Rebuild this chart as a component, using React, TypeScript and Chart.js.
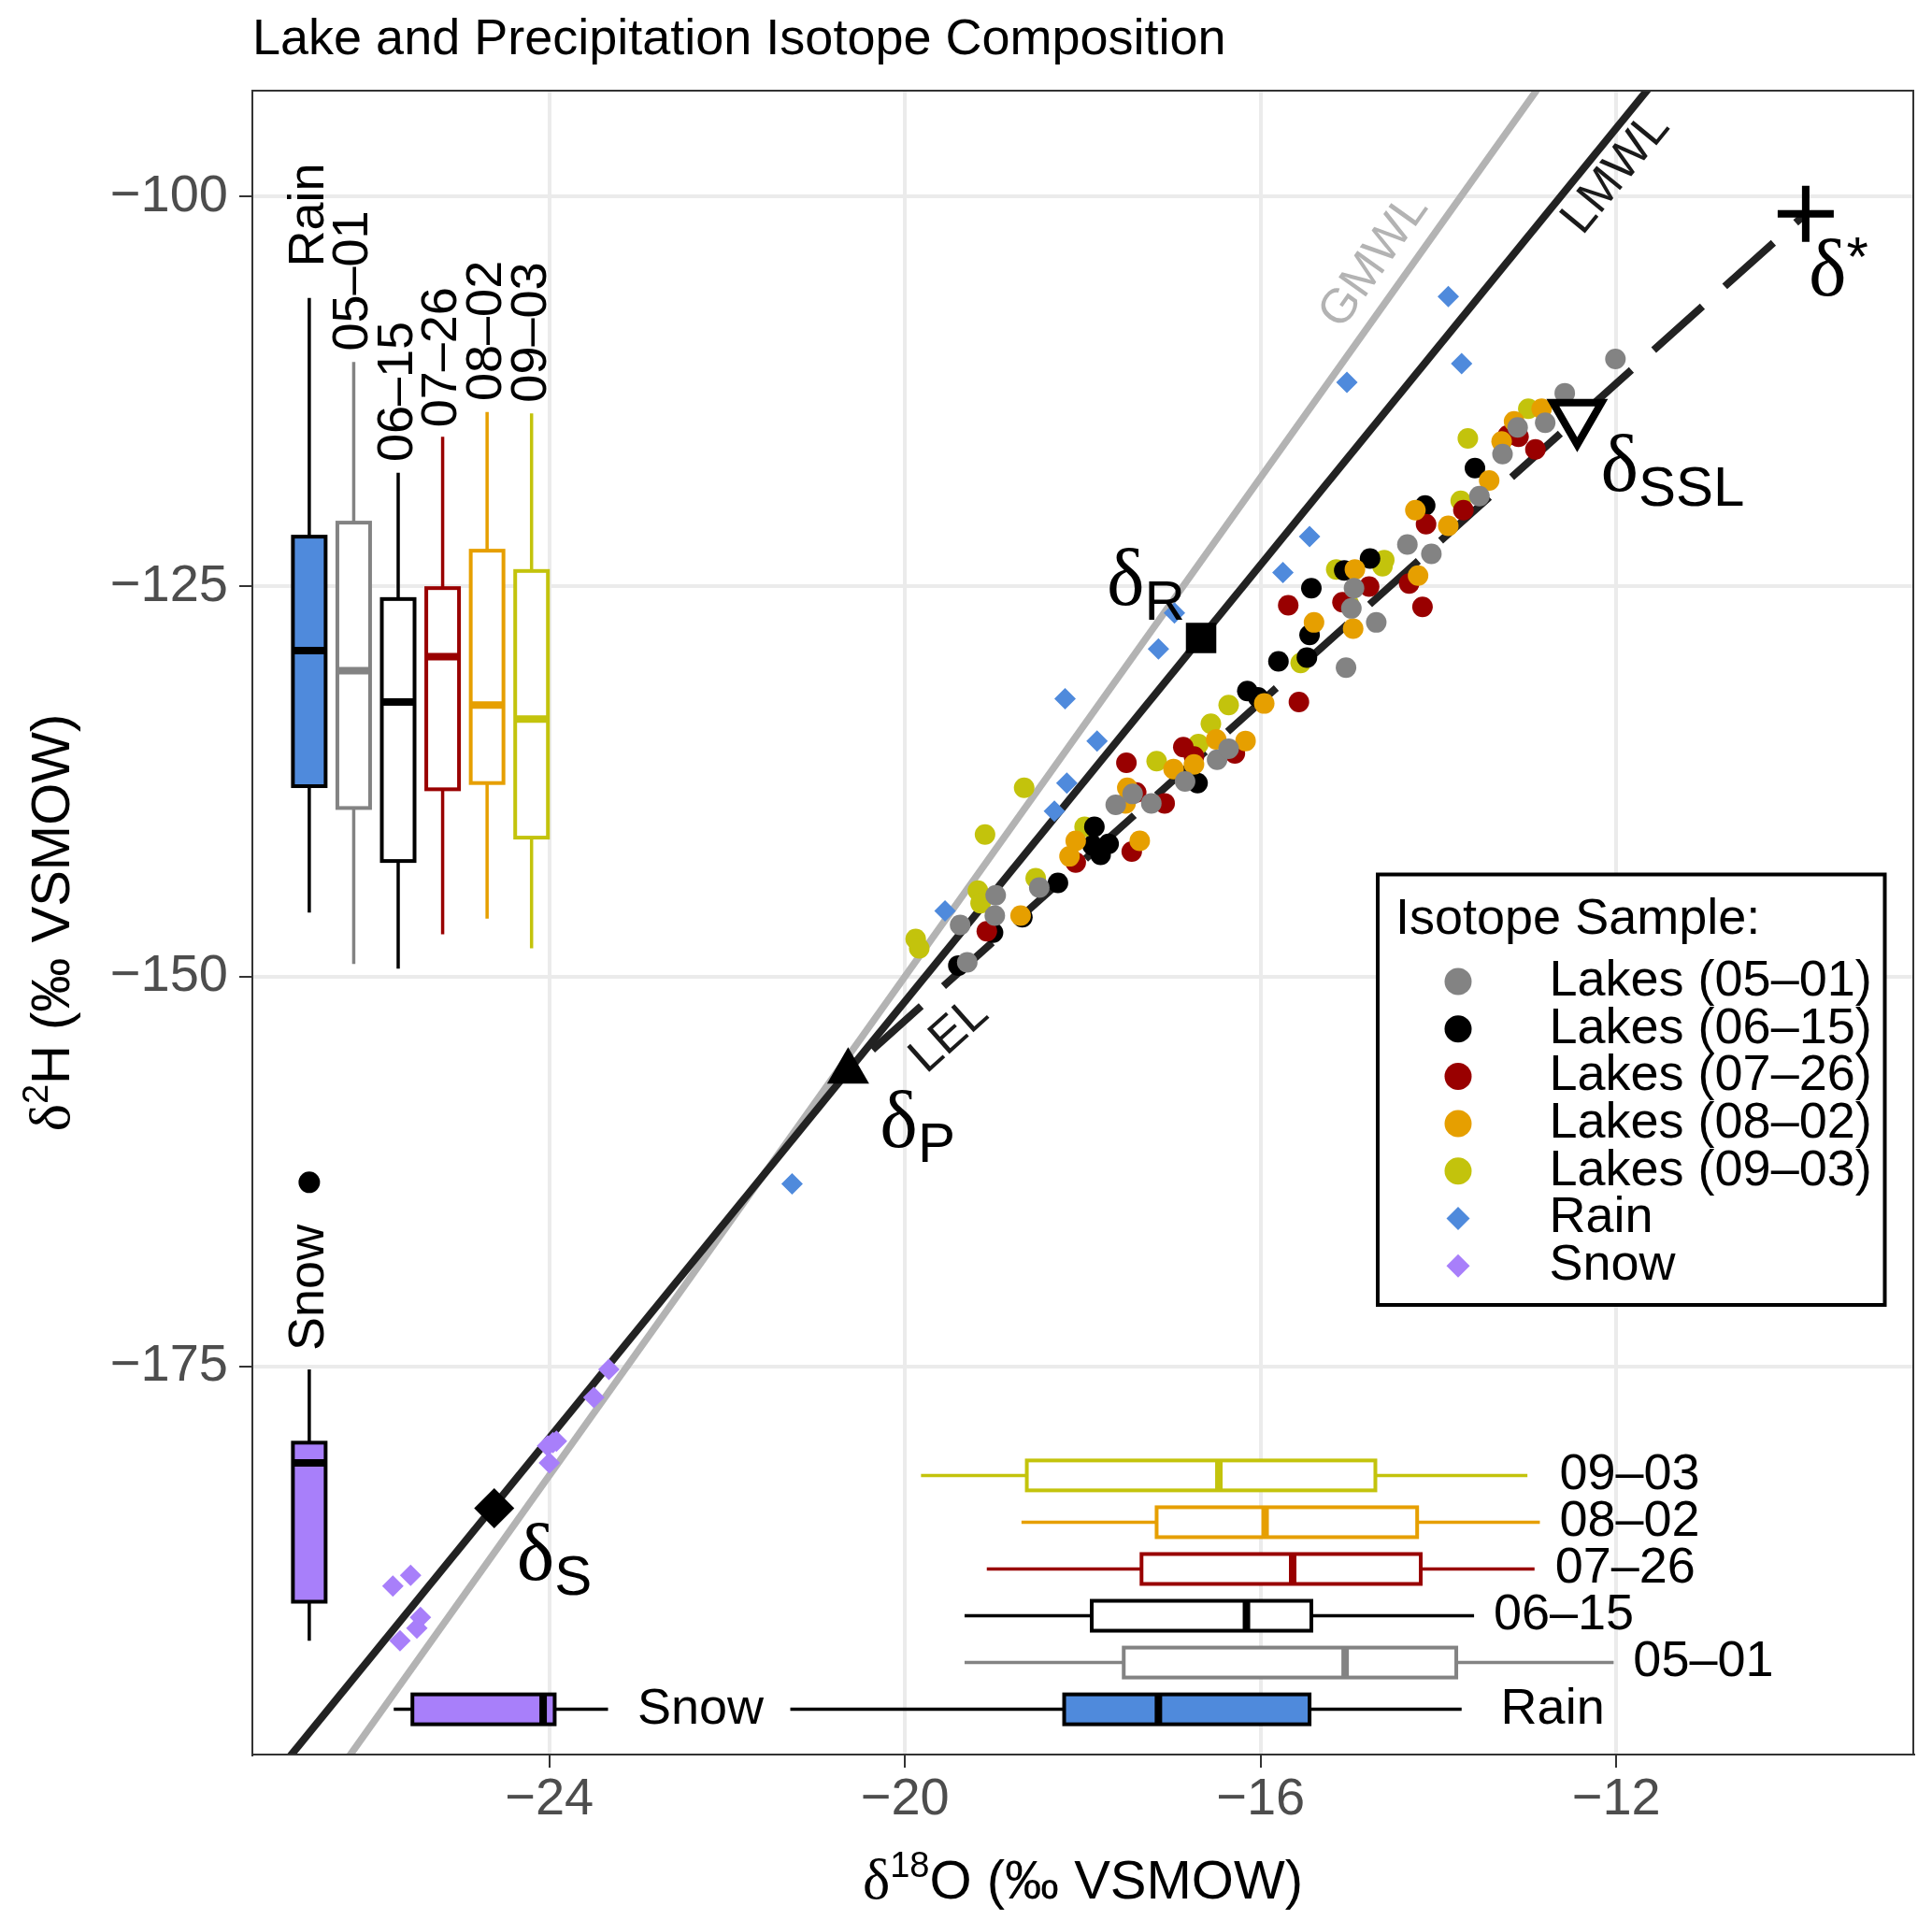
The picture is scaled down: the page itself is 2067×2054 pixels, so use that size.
import { useEffect, useRef } from 'react';
import { Chart, registerables } from 'chart.js';

Chart.register(...registerables);

const SANS = '"Liberation Sans", Arial, sans-serif';
const SERIF = '"Liberation Serif", "DejaVu Serif", serif';

// axis ticks
const xTickValues = [-24, -20, -16, -12];
const xTickLabels = ['−24', '−20', '−16', '−12'];
const yTickValues = [-175, -150, -125, -100];
const yTickLabels = ['−175', '−150', '−125', '−100'];

// lake samples, one pair of arrays per sampling date
const lakes0501X = [-19.38, -18.98, -18.99, -19.3, -18.49, -17.63, -17.44, -17.23, -16.85, -16.49, -16.36, -14.95, -14.98, -14.7, -15.04, -14.35, -14.08, -12.01, -12.58, -12.8, -13.11, -13.28, -13.54];
const lakes0501Y = [-146.7, -144.8, -146.1, -149.1, -144.3, -139.0, -138.3, -138.9, -137.5, -136.1, -135.4, -125.1, -126.4, -127.3, -130.2, -122.3, -122.9, -110.4, -112.6, -114.5, -114.8, -116.5, -119.2];

const lakes0615X = [-19.01, -19.4, -18.68, -18.28, -17.87, -17.89, -17.8, -17.71, -16.71, -15.43, -15.45, -15.8, -15.48, -16.15, -16.03, -15.06, -14.77, -14.15, -13.59];
const lakes0615Y = [-147.2, -149.3, -146.2, -144.0, -140.4, -141.6, -142.2, -141.5, -137.6, -125.1, -128.1, -129.8, -129.55, -131.7, -132.1, -123.96, -123.2, -119.8, -117.4];

const lakes0726X = [-19.08, -18.08, -17.45, -17.51, -16.87, -16.75, -17.4, -17.08, -15.69, -15.57, -16.29, -15.08, -14.78, -14.33, -14.18, -14.14, -13.22, -13.1, -12.91, -13.72];
const lakes0726Y = [-147.1, -142.7, -142.0, -136.3, -135.3, -135.9, -138.2, -138.9, -126.2, -132.4, -135.7, -126.0, -125.0, -124.8, -126.3, -121.0, -115.3, -115.4, -116.2, -120.1];

const lakes0802X = [-18.7, -18.15, -18.08, -17.36, -17.5, -17.52, -16.98, -16.75, -16.5, -15.4, -15.96, -16.17, -14.96, -14.94, -14.23, -14.26, -12.84, -13.15, -13.29, -13.43, -13.89];
const lakes0802Y = [-146.1, -142.3, -141.3, -141.3, -137.9, -138.9, -136.7, -136.4, -134.8, -127.3, -132.5, -134.9, -127.7, -123.9, -124.3, -120.1, -113.6, -114.4, -115.7, -118.2, -121.1];

const lakes0903X = [-18.66, -19.1, -19.88, -19.84, -19.18, -19.15, -18.53, -17.17, -16.56, -16.7, -17.98, -15.15, -14.61, -14.63, -15.55, -16.36, -15.01, -13.67, -12.99, -13.75];
const lakes0903Y = [-137.9, -140.9, -147.6, -148.2, -144.5, -145.3, -143.7, -136.2, -133.8, -135.1, -140.4, -123.9, -123.3, -123.7, -129.9, -132.6, -126.1, -115.5, -113.6, -119.5];

// precipitation samples
const rainX = [-13.89, -13.74, -15.03, -15.45, -15.75, -16.97, -17.15, -18.2, -17.84, -18.18, -18.32, -19.55, -21.27];
const rainY = [-106.4, -110.7, -111.9, -121.8, -124.1, -126.7, -129.0, -132.2, -134.9, -137.6, -139.4, -145.8, -163.3];
const snowX = [-23.33, -23.5, -23.96, -24.02, -23.92, -24.0, -25.56, -25.76, -25.45, -25.49, -25.68];
const snowY = [-175.2, -177.0, -179.9, -180.1, -179.8, -181.2, -188.4, -189.1, -191.1, -191.8, -192.6];

// meteoric water lines, two points each (run past the panel and get clipped)
const gmwlX = [-27.5, -11.5];
const gmwlY = [-210, -82];
const lmwlX = [-28, -10.5];
const lmwlY = [-207.6, -85.1];

// end members: δR, δP, δS, δSSL, δ*  (LEL runs from δP to δ*)
const endNames = ['R', 'P', 'S', 'SSL', '*'];
const endX = [-16.67, -20.64, -24.62, -12.44, -9.87];
const endY = [-128.3, -156.1, -184.1, -114.1, -101.1];
const endLabelDx = [-101, 34, 24, 25, 3];
const endLabelDy = [-36, 81, 77, 79, 87];

// line labels (centre of text)
const lineLabels = ['GMWL', 'LMWL', 'LEL'];
const lineLabelX = [-14.72, -12.0, -19.5];
const lineLabelY = [-104.14, -98.5, -153.8];

// δ2H box plots along the left edge
const boxNames = ['Rain', '05–01', '06–15', '07–26', '08–02', '09–03'];
const vBoxX = [-26.7, -26.2, -25.7, -25.2, -24.7, -24.2];
const vBoxMin = [-145.9, -149.2, -149.5, -147.3, -146.3, -148.2];
const vBoxQ1 = [-137.8, -139.2, -142.6, -138.0, -137.6, -141.1];
const vBoxMed = [-129.1, -130.4, -132.4, -129.5, -132.6, -133.5];
const vBoxQ3 = [-121.8, -120.9, -125.8, -125.1, -122.7, -124.0];
const vBoxMax = [-106.5, -110.6, -117.7, -115.4, -113.8, -113.9];
const vLabelY = [-104.5, -109.9, -117.0, -114.8, -113.1, -113.2];

// δ18O box plots along the bottom edge
const hBoxY = [-197, -194, -191, -188, -185, -182];
const hBoxMin = [-21.29, -19.33, -19.33, -19.08, -18.69, -19.82];
const hBoxQ1 = [-18.21, -17.54, -17.9, -17.34, -17.17, -18.63];
const hBoxMed = [-17.15, -15.05, -16.16, -15.64, -15.95, -16.47];
const hBoxQ3 = [-15.45, -13.8, -15.43, -14.2, -14.24, -14.71];
const hBoxMax = [-13.74, -12.03, -13.6, -12.92, -12.86, -13.0];
const hLabelX = [-13.3, -11.81, -13.38, -12.69, -12.64, -12.64];

// snow box plots: [min, q1, median, q3, max]
const snowVBox = [-192.6, -190.1, -181.2, -179.9, -175.2];
const snowVBoxX = -26.7;
const snowVLabelY = -174.0;
const snowOutlierY = [-163.2];
const snowHBox = [-25.75, -25.54, -24.07, -23.94, -23.34];
const snowHBoxY = -197;
const snowHLabelX = -23.01;

const GREY = '#838383';
const RED = '#990000';
const ORANGE = '#E69F00';
const OLIVE = '#C3C30C';
const BLUE = '#4F8ADC';
const PURPLE = '#A87FFA';

const boxStroke = ['#000000', GREY, '#000000', RED, ORANGE, OLIVE];
const boxFill = [BLUE, '#FFFFFF', '#FFFFFF', '#FFFFFF', '#FFFFFF', '#FFFFFF'];

const pts = (xs: number[], ys: number[]) => xs.map((x, i) => ({ x, y: ys[i] }));

type Part = { text: string; font: string; dy?: number };

function drawParts(ctx: CanvasRenderingContext2D, parts: Part[], x: number, y: number, center: boolean) {
  let w = 0;
  parts.forEach((p) => {
    ctx.font = p.font;
    w += ctx.measureText(p.text).width;
  });
  let cx = center ? x - w / 2 : x;
  ctx.textAlign = 'left';
  ctx.textBaseline = 'alphabetic';
  parts.forEach((p) => {
    ctx.font = p.font;
    ctx.fillText(p.text, cx, y + (p.dy || 0));
    cx += ctx.measureText(p.text).width;
  });
}

function vBox(ctx: CanvasRenderingContext2D, cx: number, ys: any, s: number[], stroke: string, fill: string) {
  const hw = 17.5;
  const [lo, q1, md, q3, hi] = s.map((v) => ys.getPixelForValue(v));
  ctx.strokeStyle = stroke;
  ctx.lineCap = 'butt';
  ctx.lineWidth = 3.5;
  ctx.beginPath();
  ctx.moveTo(cx, hi);
  ctx.lineTo(cx, q3);
  ctx.moveTo(cx, q1);
  ctx.lineTo(cx, lo);
  ctx.stroke();
  ctx.fillStyle = fill;
  ctx.fillRect(cx - hw, q3, 2 * hw, q1 - q3);
  ctx.lineWidth = 4;
  ctx.strokeRect(cx - hw, q3, 2 * hw, q1 - q3);
  ctx.lineWidth = 8;
  ctx.beginPath();
  ctx.moveTo(cx - hw, md);
  ctx.lineTo(cx + hw, md);
  ctx.stroke();
}

function hBox(ctx: CanvasRenderingContext2D, cy: number, xs: any, s: number[], stroke: string, fill: string) {
  const hh = 16;
  const [lo, q1, md, q3, hi] = s.map((v) => xs.getPixelForValue(v));
  ctx.strokeStyle = stroke;
  ctx.lineCap = 'butt';
  ctx.lineWidth = 3.5;
  ctx.beginPath();
  ctx.moveTo(lo, cy);
  ctx.lineTo(q1, cy);
  ctx.moveTo(q3, cy);
  ctx.lineTo(hi, cy);
  ctx.stroke();
  ctx.fillStyle = fill;
  ctx.fillRect(q1, cy - hh, q3 - q1, 2 * hh);
  ctx.lineWidth = 4;
  ctx.strokeRect(q1, cy - hh, q3 - q1, 2 * hh);
  ctx.lineWidth = 8;
  ctx.beginPath();
  ctx.moveTo(md, cy - hh);
  ctx.lineTo(md, cy + hh);
  ctx.stroke();
}

const sketchPlugin = {
  id: 'sketch',
  beforeDatasetsDraw(chart: any) {
    const { ctx, scales } = chart;
    const xs = scales.x;
    const ys = scales.y;
    ctx.save();
    boxNames.forEach((_, i) => {
      vBox(ctx, xs.getPixelForValue(vBoxX[i]), ys, [vBoxMin[i], vBoxQ1[i], vBoxMed[i], vBoxQ3[i], vBoxMax[i]], boxStroke[i], boxFill[i]);
      hBox(ctx, ys.getPixelForValue(hBoxY[i]), xs, [hBoxMin[i], hBoxQ1[i], hBoxMed[i], hBoxQ3[i], hBoxMax[i]], boxStroke[i], boxFill[i]);
    });
    vBox(ctx, xs.getPixelForValue(snowVBoxX), ys, snowVBox, '#000000', PURPLE);
    hBox(ctx, ys.getPixelForValue(snowHBoxY), xs, snowHBox, '#000000', PURPLE);

    // box labels
    ctx.fillStyle = '#000000';
    ctx.font = `54px ${SANS}`;
    const vLabels = [...boxNames, 'Snow'];
    const vx = [...vBoxX, snowVBoxX];
    const vy = [...vLabelY, snowVLabelY];
    vLabels.forEach((t, i) => {
      ctx.save();
      ctx.translate(xs.getPixelForValue(vx[i]), ys.getPixelForValue(vy[i]));
      ctx.rotate(-Math.PI / 2);
      ctx.textAlign = 'left';
      ctx.textBaseline = 'middle';
      ctx.fillText(t, 0, 0);
      ctx.restore();
    });
    const hx = [...hLabelX, snowHLabelX];
    const hy = [...hBoxY, snowHBoxY];
    ctx.textAlign = 'left';
    ctx.textBaseline = 'middle';
    vLabels.forEach((t, i) => {
      ctx.fillText(t, xs.getPixelForValue(hx[i]), ys.getPixelForValue(hy[i]));
    });
    ctx.restore();
  },
  afterDatasetsDraw(chart: any) {
    const { ctx, scales, chartArea: ca } = chart;
    const xs = scales.x;
    const ys = scales.y;
    ctx.save();

    // line labels, parallel to their lines
    const lineEnds = [
      [gmwlX, gmwlY],
      [lmwlX, lmwlY],
      [[endX[1], endX[4]], [endY[1], endY[4]]],
    ];
    const lineColors = ['#B3B3B3', '#1A1A1A', '#1A1A1A'];
    lineLabels.forEach((t, i) => {
      const [lx, ly] = lineEnds[i];
      const a = Math.atan2(
        ys.getPixelForValue(ly[1]) - ys.getPixelForValue(ly[0]),
        xs.getPixelForValue(lx[1]) - xs.getPixelForValue(lx[0]),
      );
      ctx.save();
      ctx.translate(xs.getPixelForValue(lineLabelX[i]), ys.getPixelForValue(lineLabelY[i]));
      ctx.rotate(a);
      ctx.fillStyle = lineColors[i];
      ctx.font = `52px ${SANS}`;
      ctx.textAlign = 'center';
      ctx.textBaseline = 'middle';
      ctx.fillText(t, 0, 0);
      ctx.restore();
    });

    // end-member labels
    ctx.fillStyle = '#000000';
    endNames.forEach((n, i) => {
      const px = xs.getPixelForValue(endX[i]) + endLabelDx[i];
      const py = ys.getPixelForValue(endY[i]) + endLabelDy[i];
      drawParts(
        ctx,
        [
          { text: 'δ', font: `86px ${SERIF}` },
          { text: n, font: `60px ${SANS}`, dy: n === '*' ? -21 : 16 },
        ],
        px,
        py,
        false,
      );
    });

    // panel border
    ctx.strokeStyle = '#333333';
    ctx.lineWidth = 2;
    ctx.strokeRect(ca.left, ca.top, ca.right - ca.left, ca.bottom - ca.top);

    // legend
    const lx = ca.right - 573;
    const ly = ca.top + 838.5;
    ctx.fillStyle = '#FFFFFF';
    ctx.fillRect(lx, ly, 542.5, 460.5);
    ctx.strokeStyle = '#000000';
    ctx.lineWidth = 4;
    ctx.strokeRect(lx, ly, 542.5, 460.5);
    ctx.fillStyle = '#000000';
    ctx.font = `54px ${SANS}`;
    ctx.textAlign = 'left';
    ctx.textBaseline = 'alphabetic';
    ctx.fillText('Isotope Sample:', lx + 19, ly + 63.5);
    const items = chart.data.datasets.filter((d: any) => d.legendRow !== undefined);
    items.forEach((d: any) => {
      const cy = ly + 114.5 + d.legendRow * 50.7;
      const mx = lx + 86;
      ctx.fillStyle = d.backgroundColor;
      ctx.beginPath();
      if (d.pointStyle === 'rectRot') {
        const r = 12.5;
        ctx.moveTo(mx, cy - r);
        ctx.lineTo(mx + r, cy);
        ctx.lineTo(mx, cy + r);
        ctx.lineTo(mx - r, cy);
        ctx.closePath();
      } else {
        ctx.arc(mx, cy, 14.5, 0, Math.PI * 2);
      }
      ctx.fill();
      ctx.fillStyle = '#000000';
      ctx.textBaseline = 'middle';
      ctx.fillText(d.label, lx + 183.5, cy);
    });

    ctx.restore();
  },
  afterDraw(chart: any) {
    const { ctx, chartArea: ca } = chart;
    ctx.save();
    ctx.fillStyle = '#000000';
    ctx.font = `54px ${SANS}`;
    ctx.textAlign = 'left';
    ctx.textBaseline = 'alphabetic';
    ctx.fillText('Lake and Precipitation Isotope Composition', ca.left, 58);

    drawParts(
      ctx,
      [
        { text: 'δ', font: `62px ${SERIF}` },
        { text: '18', font: `38px ${SANS}`, dy: -23 },
        { text: 'O (‰ VSMOW)', font: `58px ${SANS}` },
      ],
      (ca.left + ca.right) / 2,
      2031,
      true,
    );

    ctx.translate(74, (ca.top + ca.bottom) / 2);
    ctx.rotate(-Math.PI / 2);
    drawParts(
      ctx,
      [
        { text: 'δ', font: `62px ${SERIF}` },
        { text: '2', font: `38px ${SANS}`, dy: -23 },
        { text: 'H (‰ VSMOW)', font: `58px ${SANS}` },
      ],
      0,
      0,
      true,
    );
    ctx.restore();
  },
};

const lakeSeries = [
  { label: 'Lakes (05–01)', xs: lakes0501X, ys: lakes0501Y, color: GREY, order: 1 },
  { label: 'Lakes (06–15)', xs: lakes0615X, ys: lakes0615Y, color: '#000000', order: 4 },
  { label: 'Lakes (07–26)', xs: lakes0726X, ys: lakes0726Y, color: RED, order: 3 },
  { label: 'Lakes (08–02)', xs: lakes0802X, ys: lakes0802Y, color: ORANGE, order: 2 },
  { label: 'Lakes (09–03)', xs: lakes0903X, ys: lakes0903Y, color: OLIVE, order: 5 },
];

const App = () => {
  const canvasRef = useRef<HTMLCanvasElement>(null);
  const chartRef = useRef<Chart | null>(null);

  useEffect(() => {
    document.body.style.margin = '0';
    if (!canvasRef.current) return;
    if (chartRef.current) chartRef.current.destroy();

    Chart.defaults.font.family = SANS;

    const point = (bg: string) => ({
      backgroundColor: bg,
      borderColor: 'rgba(0,0,0,0)',
      borderWidth: 0,
    });

    const datasets: any[] = [
      ...lakeSeries.map((s, i) => ({
        label: s.label,
        legendRow: i,
        data: pts(s.xs, s.ys),
        pointStyle: 'circle',
        pointRadius: 11,
        pointHoverRadius: 11,
        order: s.order,
        ...point(s.color),
      })),
      {
        label: 'Rain',
        legendRow: 5,
        data: pts(rainX, rainY),
        pointStyle: 'rectRot',
        pointRadius: 11.5,
        pointHoverRadius: 11.5,
        order: 0.5,
        ...point(BLUE),
      },
      {
        label: 'Snow',
        legendRow: 6,
        data: pts(snowX, snowY),
        pointStyle: 'rectRot',
        pointRadius: 11.5,
        pointHoverRadius: 11.5,
        order: 0.5,
        ...point(PURPLE),
      },
      {
        label: 'snow outlier',
        data: snowOutlierY.map((y) => ({ x: snowVBoxX, y })),
        pointStyle: 'circle',
        pointRadius: 11.5,
        order: 0.5,
        ...point('#000000'),
      },
      {
        label: 'GMWL',
        data: pts(gmwlX, gmwlY),
        showLine: true,
        borderColor: '#B3B3B3',
        borderWidth: 7.5,
        pointRadius: 0,
        clip: 0,
        order: 12,
      },
      {
        label: 'LMWL',
        data: pts(lmwlX, lmwlY),
        showLine: true,
        borderColor: '#222222',
        borderWidth: 8,
        pointRadius: 0,
        clip: 0,
        order: 11,
      },
      {
        label: 'LEL',
        data: pts([endX[1], endX[4]], [endY[1], endY[4]]),
        showLine: true,
        borderColor: '#222222',
        borderWidth: 8,
        borderDash: [70, 32],
        borderDashOffset: 67,
        pointRadius: 0,
        clip: 0,
        order: 10,
      },
      {
        label: 'δR',
        data: [{ x: endX[0], y: endY[0] }],
        pointStyle: 'rect',
        pointRadius: 23,
        order: 0,
        ...point('#000000'),
      },
      {
        label: 'δP',
        data: [{ x: endX[1], y: endY[1] }],
        pointStyle: 'triangle',
        pointRadius: 26,
        order: 0,
        ...point('#000000'),
      },
      {
        label: 'δS',
        data: [{ x: endX[2], y: endY[2] }],
        pointStyle: 'rectRot',
        pointRadius: 21.5,
        order: 0,
        ...point('#000000'),
      },
      {
        label: 'δSSL',
        data: [{ x: endX[3], y: endY[3] }],
        pointStyle: 'triangle',
        pointRotation: 180,
        pointRadius: 30,
        backgroundColor: '#FFFFFF',
        borderColor: '#000000',
        borderWidth: 8,
        order: 0,
      },
      {
        label: 'δ*',
        data: [{ x: endX[4], y: endY[4] }],
        pointStyle: 'cross',
        pointRadius: 30,
        borderColor: '#000000',
        borderWidth: 8,
        order: 0,
      },
    ];

    const axisCommon = {
      type: 'linear' as const,
      grid: {
        color: '#EBEBEB',
        lineWidth: 4,
        tickLength: 14,
        tickColor: '#333333',
        tickWidth: 2,
      },
      border: { display: true, color: '#333333', width: 2 },
    };

    chartRef.current = new Chart(canvasRef.current, {
      type: 'scatter',
      data: { datasets },
      options: {
        responsive: false,
        devicePixelRatio: 1,
        animation: false,
        events: [],
        layout: { autoPadding: false, padding: { top: 97, right: 20, left: 0, bottom: 0 } },
        plugins: {
          legend: { display: false },
          tooltip: { enabled: false },
          title: { display: false },
        },
        scales: {
          x: {
            ...axisCommon,
            position: 'bottom',
            min: -27.34,
            max: -8.66,
            afterBuildTicks: (scale: any) => {
              scale.ticks = xTickValues.map((value) => ({ value }));
            },
            afterFit: (scale: any) => {
              scale.height = 177;
            },
            ticks: {
              padding: 1,
              color: '#4D4D4D',
              font: { size: 56, family: SANS },
              maxRotation: 0,
              callback: (v: any) => xTickLabels[xTickValues.indexOf(Number(v))] ?? '',
            },
          },
          y: {
            ...axisCommon,
            position: 'left',
            min: -199.9,
            max: -93.2,
            afterBuildTicks: (scale: any) => {
              scale.ticks = yTickValues.map((value) => ({ value }));
            },
            afterFit: (scale: any) => {
              scale.width = 270;
            },
            ticks: {
              padding: 12,
              color: '#4D4D4D',
              font: { size: 56, family: SANS },
              callback: (v: any) => yTickLabels[yTickValues.indexOf(Number(v))] ?? '',
            },
          },
        },
      } as any,
      plugins: [sketchPlugin],
    });

    return () => {
      if (chartRef.current) {
        chartRef.current.destroy();
        chartRef.current = null;
      }
    };
  }, []);

  return (
    <div style={{ width: 2067, height: 2054, background: '#FFFFFF' }}>
      <canvas ref={canvasRef} width={2067} height={2054} style={{ display: 'block' }} />
    </div>
  );
};

export default App;
